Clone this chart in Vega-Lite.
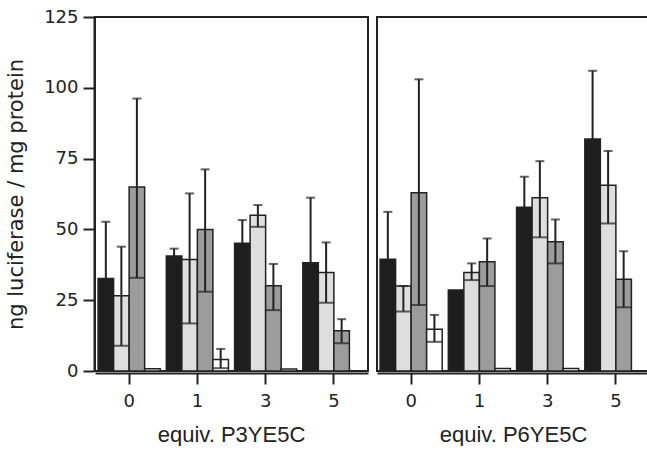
{
  "$schema": "https://vega.github.io/schema/vega-lite/v6.json",
  "padding": {"left": 5, "top": 8, "right": 0, "bottom": 0},
  "background": "white",
  "data": {"values": [
    {"panel": "equiv. P3YE5C", "dose": 0, "series": "A", "value": 32.7, "lo": 32.7, "hi": 52.7},
    {"panel": "equiv. P3YE5C", "dose": 0, "series": "B", "value": 26.6, "lo": 8.9, "hi": 43.9},
    {"panel": "equiv. P3YE5C", "dose": 0, "series": "C", "value": 65.0, "lo": 32.9, "hi": 96.2},
    {"panel": "equiv. P3YE5C", "dose": 0, "series": "D", "value": 0.8, "lo": null, "hi": null},
    {"panel": "equiv. P3YE5C", "dose": 1, "series": "A", "value": 40.6, "lo": 40.6, "hi": 43.2},
    {"panel": "equiv. P3YE5C", "dose": 1, "series": "B", "value": 39.4, "lo": 16.8, "hi": 62.7},
    {"panel": "equiv. P3YE5C", "dose": 1, "series": "C", "value": 50.0, "lo": 28.0, "hi": 71.2},
    {"panel": "equiv. P3YE5C", "dose": 1, "series": "D", "value": 4.1, "lo": 1.0, "hi": 7.8},
    {"panel": "equiv. P3YE5C", "dose": 3, "series": "A", "value": 45.1, "lo": 45.1, "hi": 53.3},
    {"panel": "equiv. P3YE5C", "dose": 3, "series": "B", "value": 55.0, "lo": 50.9, "hi": 58.6},
    {"panel": "equiv. P3YE5C", "dose": 3, "series": "C", "value": 30.1, "lo": 21.5, "hi": 37.8},
    {"panel": "equiv. P3YE5C", "dose": 3, "series": "D", "value": 0.7, "lo": null, "hi": null},
    {"panel": "equiv. P3YE5C", "dose": 5, "series": "A", "value": 38.2, "lo": 38.2, "hi": 61.2},
    {"panel": "equiv. P3YE5C", "dose": 5, "series": "B", "value": 34.8, "lo": 24.1, "hi": 45.4},
    {"panel": "equiv. P3YE5C", "dose": 5, "series": "C", "value": 14.2, "lo": 9.8, "hi": 18.3},
    {"panel": "equiv. P3YE5C", "dose": 5, "series": "D", "value": 0, "lo": null, "hi": null},
    {"panel": "equiv. P6YE5C", "dose": 0, "series": "A", "value": 39.5, "lo": 39.5, "hi": 56.2},
    {"panel": "equiv. P6YE5C", "dose": 0, "series": "B", "value": 30.0, "lo": 21.0, "hi": 30.0},
    {"panel": "equiv. P6YE5C", "dose": 0, "series": "C", "value": 62.9, "lo": 23.3, "hi": 103.0},
    {"panel": "equiv. P6YE5C", "dose": 0, "series": "D", "value": 14.7, "lo": 10.3, "hi": 19.8},
    {"panel": "equiv. P6YE5C", "dose": 1, "series": "A", "value": 28.6, "lo": null, "hi": null},
    {"panel": "equiv. P6YE5C", "dose": 1, "series": "B", "value": 34.8, "lo": 32.1, "hi": 38.0},
    {"panel": "equiv. P6YE5C", "dose": 1, "series": "C", "value": 38.6, "lo": 30.0, "hi": 46.8},
    {"panel": "equiv. P6YE5C", "dose": 1, "series": "D", "value": 0.9, "lo": null, "hi": null},
    {"panel": "equiv. P6YE5C", "dose": 3, "series": "A", "value": 57.8, "lo": 57.8, "hi": 68.6},
    {"panel": "equiv. P6YE5C", "dose": 3, "series": "B", "value": 61.2, "lo": 47.2, "hi": 74.1},
    {"panel": "equiv. P6YE5C", "dose": 3, "series": "C", "value": 45.6, "lo": 38.0, "hi": 53.5},
    {"panel": "equiv. P6YE5C", "dose": 3, "series": "D", "value": 0.9, "lo": null, "hi": null},
    {"panel": "equiv. P6YE5C", "dose": 5, "series": "A", "value": 81.9, "lo": 81.9, "hi": 106.0},
    {"panel": "equiv. P6YE5C", "dose": 5, "series": "B", "value": 65.6, "lo": 52.1, "hi": 77.7},
    {"panel": "equiv. P6YE5C", "dose": 5, "series": "C", "value": 32.4, "lo": 22.5, "hi": 42.3},
    {"panel": "equiv. P6YE5C", "dose": 5, "series": "D", "value": 0, "lo": null, "hi": null}
  ]},
  "facet": {
    "column": {
      "field": "panel",
      "type": "nominal",
      "header": {
        "title": null,
        "labelOrient": "bottom",
        "labelFont": "Liberation Sans",
        "labelFontSize": 22,
        "labelColor": "#222",
        "labelPadding": 15
      }
    }
  },
  "spacing": 7,
  "spec": {
    "width": 273,
    "height": 354,
    "encoding": {
      "x": {
        "field": "dose",
        "type": "ordinal",
        "scale": {"paddingInner": 0.09, "paddingOuter": 0.045},
        "axis": {"title": null, "labelAngle": 0, "labelFont": "DejaVu Sans", "labelFontSize": 18, "labelColor": "#222", "tickSize": 11, "labelPadding": 8, "tickWidth": 2, "tickColor": "#222", "domainColor": "#222", "domainWidth": 2}
      },
      "xOffset": {"field": "series", "type": "nominal", "scale": {"paddingInner": 0, "paddingOuter": 0}}
    },
    "layer": [
      {
        "mark": {"type": "bar", "stroke": "#222", "strokeWidth": 1.5},
        "encoding": {
          "y": {
            "field": "value",
            "type": "quantitative",
            "scale": {"domain": [0, 125], "nice": false},
            "axis": {
              "title": "ng luciferase / mg protein",
              "titleFont": "DejaVu Sans",
              "titleFontSize": 21,
              "titleFontWeight": "normal",
              "titleColor": "#222",
              "titlePadding": 17,
              "values": [0, 25, 50, 75, 100, 125],
              "grid": false,
              "labelFont": "DejaVu Sans",
              "labelFontSize": 18,
              "labelColor": "#222",
              "tickSize": 11,
              "tickWidth": 2,
              "tickColor": "#222",
              "labelPadding": 5,
              "domainColor": "#222",
              "domainWidth": 2
            }
          },
          "fill": {
            "field": "series",
            "type": "nominal",
            "scale": {"domain": ["A", "B", "C", "D"], "range": ["#1e1e1e", "#dedede", "#9c9c9c", "#ffffff"]},
            "legend": null
          }
        }
      },
      {
        "transform": [{"filter": "datum.hi != null"}],
        "mark": {"type": "rule", "color": "#222", "strokeWidth": 2},
        "encoding": {
          "y": {"field": "lo", "type": "quantitative"},
          "y2": {"field": "hi"}
        }
      },
      {
        "transform": [{"filter": "datum.hi != null"}],
        "mark": {"type": "tick", "color": "#222", "size": 9, "thickness": 2},
        "encoding": {
          "y": {"field": "hi", "type": "quantitative"}
        }
      },
      {
        "transform": [{"filter": "datum.hi != null && datum.series != 'A' && datum.lo < datum.value"}],
        "mark": {"type": "tick", "color": "#222", "size": 15, "thickness": 2},
        "encoding": {
          "y": {"field": "lo", "type": "quantitative"}
        }
      }
    ]
  },
  "config": {
    "view": {"stroke": "#222", "strokeWidth": 2},
    "axis": {"grid": false}
  }
}
